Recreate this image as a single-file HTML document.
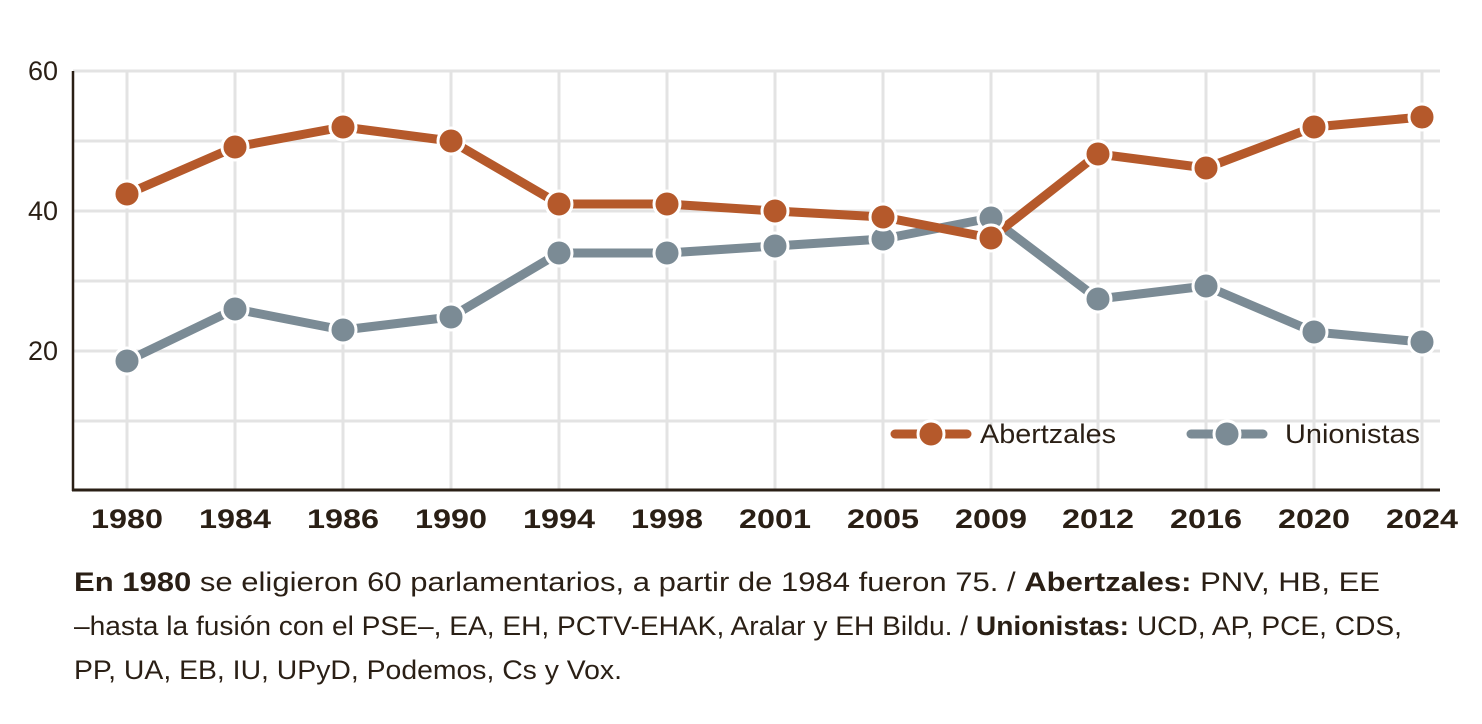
<!DOCTYPE html>
<html><head><meta charset="utf-8"><style>
body{margin:0;background:#fff;width:1482px;height:724px;overflow:hidden}
svg{display:block}
.t{font-family:"Liberation Sans",sans-serif}
</style></head><body>
<svg width="1482" height="724" xmlns="http://www.w3.org/2000/svg">
<g stroke="#e3e3e3" stroke-width="3">
<line x1="73" x2="1440" y1="71" y2="71"/><line x1="73" x2="1440" y1="141" y2="141"/><line x1="73" x2="1440" y1="211" y2="211"/><line x1="73" x2="1440" y1="281" y2="281"/><line x1="73" x2="1440" y1="351" y2="351"/><line x1="73" x2="1440" y1="421" y2="421"/>
<line x1="127" x2="127" y1="71" y2="490"/><line x1="235" x2="235" y1="71" y2="490"/><line x1="343" x2="343" y1="71" y2="490"/><line x1="451" x2="451" y1="71" y2="490"/><line x1="559" x2="559" y1="71" y2="490"/><line x1="667" x2="667" y1="71" y2="490"/><line x1="775" x2="775" y1="71" y2="490"/><line x1="883" x2="883" y1="71" y2="490"/><line x1="991" x2="991" y1="71" y2="490"/><line x1="1098" x2="1098" y1="71" y2="490"/><line x1="1206" x2="1206" y1="71" y2="490"/><line x1="1314" x2="1314" y1="71" y2="490"/><line x1="1422" x2="1422" y1="71" y2="490"/>
</g>
<line x1="73" x2="73" y1="71" y2="491" stroke="#2a1f15" stroke-width="2.5"/>
<line x1="72" x2="1440" y1="490" y2="490" stroke="#2a1f15" stroke-width="3"/>
<g class="t" font-size="27" fill="#2a1f15" text-anchor="end">
<text x="58" y="80">60</text><text x="58" y="220">40</text><text x="58" y="360">20</text>
</g>
<g class="t" font-size="27" font-weight="bold" fill="#2a1f15">
<text x="91" y="528" textLength="72" lengthAdjust="spacingAndGlyphs">1980</text>
<text x="199" y="528" textLength="72" lengthAdjust="spacingAndGlyphs">1984</text>
<text x="307" y="528" textLength="72" lengthAdjust="spacingAndGlyphs">1986</text>
<text x="415" y="528" textLength="72" lengthAdjust="spacingAndGlyphs">1990</text>
<text x="523" y="528" textLength="72" lengthAdjust="spacingAndGlyphs">1994</text>
<text x="631" y="528" textLength="72" lengthAdjust="spacingAndGlyphs">1998</text>
<text x="739" y="528" textLength="72" lengthAdjust="spacingAndGlyphs">2001</text>
<text x="847" y="528" textLength="72" lengthAdjust="spacingAndGlyphs">2005</text>
<text x="955" y="528" textLength="72" lengthAdjust="spacingAndGlyphs">2009</text>
<text x="1062" y="528" textLength="72" lengthAdjust="spacingAndGlyphs">2012</text>
<text x="1170" y="528" textLength="72" lengthAdjust="spacingAndGlyphs">2016</text>
<text x="1278" y="528" textLength="72" lengthAdjust="spacingAndGlyphs">2020</text>
<text x="1386" y="528" textLength="72" lengthAdjust="spacingAndGlyphs">2024</text>
</g>
<polyline fill="none" stroke="#7b8b95" stroke-width="9" stroke-linejoin="round" points="127,361 235,309 343,330 451,317 559,253 667,253 775,246 883,239 991,218 1098,299 1206,286 1314,332 1422,342"/>
<polyline fill="none" stroke="#b5592b" stroke-width="9" stroke-linejoin="round" points="127,194 235,147 343,127 451,141 559,204 667,204 775,211 883,217 991,238 1098,154 1206,168 1314,127 1422,117"/>
<g fill="#7b8b95" stroke="#fff" stroke-width="3">
<circle cx="127" cy="361" r="13"/><circle cx="235" cy="309" r="13"/><circle cx="343" cy="330" r="13"/><circle cx="451" cy="317" r="13"/><circle cx="559" cy="253" r="13"/><circle cx="667" cy="253" r="13"/><circle cx="775" cy="246" r="13"/><circle cx="883" cy="239" r="13"/><circle cx="991" cy="218" r="13"/><circle cx="1098" cy="299" r="13"/><circle cx="1206" cy="286" r="13"/><circle cx="1314" cy="332" r="13"/><circle cx="1422" cy="342" r="13"/>
</g>
<g fill="#b5592b" stroke="#fff" stroke-width="3">
<circle cx="127" cy="194" r="13"/><circle cx="235" cy="147" r="13"/><circle cx="343" cy="127" r="13"/><circle cx="451" cy="141" r="13"/><circle cx="559" cy="204" r="13"/><circle cx="667" cy="204" r="13"/><circle cx="775" cy="211" r="13"/><circle cx="883" cy="217" r="13"/><circle cx="991" cy="238" r="13"/><circle cx="1098" cy="154" r="13"/><circle cx="1206" cy="168" r="13"/><circle cx="1314" cy="127" r="13"/><circle cx="1422" cy="117" r="13"/>
</g>
<line x1="895" x2="967" y1="434" y2="434" stroke="#b5592b" stroke-width="9" stroke-linecap="round"/>
<circle cx="931" cy="434" r="13" fill="#b5592b" stroke="#fff" stroke-width="3"/>
<text class="t" x="980" y="443" font-size="27" fill="#2a1f15" textLength="136" lengthAdjust="spacingAndGlyphs">Abertzales</text>
<line x1="1191" x2="1263" y1="434" y2="434" stroke="#7b8b95" stroke-width="9" stroke-linecap="round"/>
<circle cx="1227" cy="434" r="13" fill="#7b8b95" stroke="#fff" stroke-width="3"/>
<text class="t" x="1285" y="443" font-size="27" fill="#2a1f15" textLength="135" lengthAdjust="spacingAndGlyphs">Unionistas</text>
<g class="t" font-size="27" fill="#2a1f15">
<text x="74" y="591" textLength="1306" lengthAdjust="spacingAndGlyphs"><tspan font-weight="bold">En 1980</tspan> se eligieron 60 parlamentarios, a partir de 1984 fueron 75.  /  <tspan font-weight="bold">Abertzales:</tspan> PNV, HB, EE</text>
<text x="74" y="635" textLength="1328" lengthAdjust="spacingAndGlyphs">–hasta la fusión con el PSE–, EA, EH, PCTV-EHAK, Aralar y EH Bildu.  /  <tspan font-weight="bold">Unionistas:</tspan> UCD, AP, PCE, CDS,</text>
<text x="74" y="679" textLength="548" lengthAdjust="spacingAndGlyphs">PP, UA, EB, IU, UPyD, Podemos, Cs y Vox.</text>
</g>
</svg>
</body></html>
